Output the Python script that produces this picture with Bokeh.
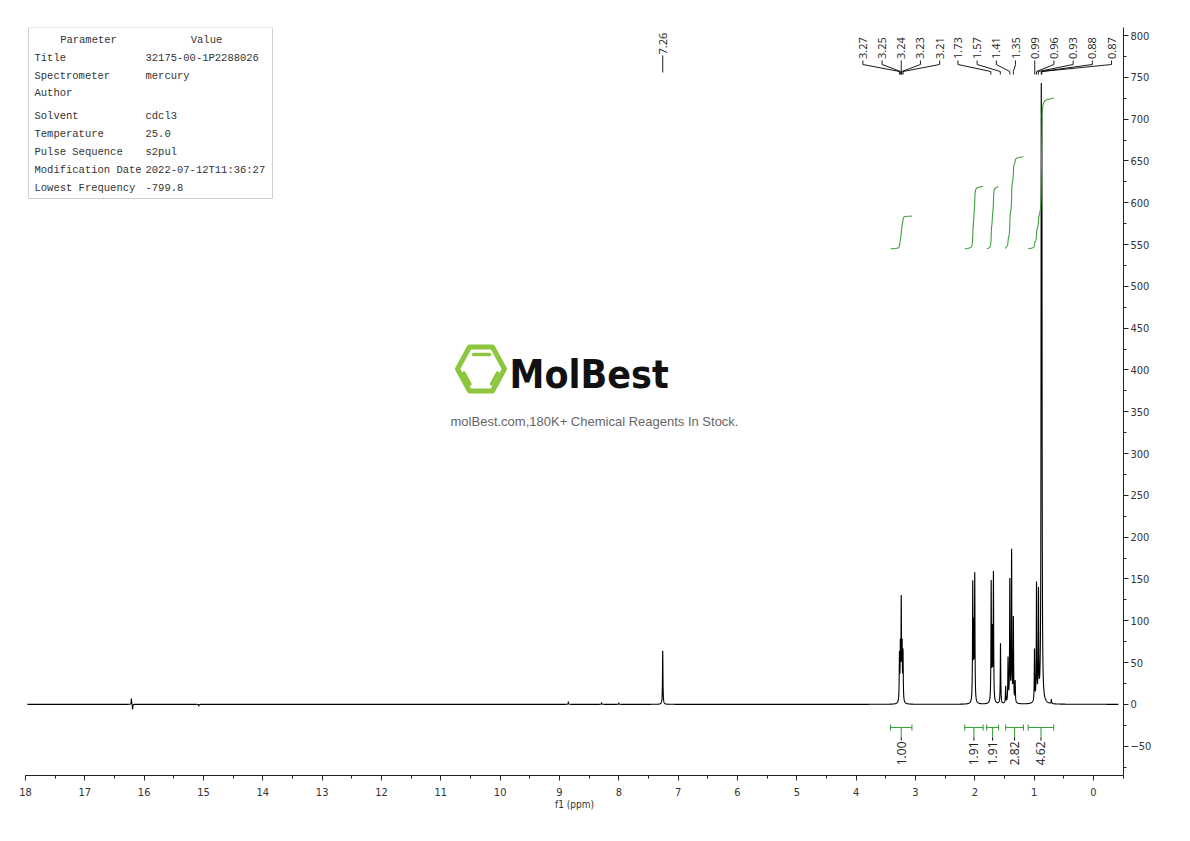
import numpy as np
from bokeh.plotting import figure
from bokeh.models import Range1d, SingleIntervalTicker, Label, PolyAnnotation, Arrow
from bokeh.core.properties import value
from bokeh.embed import file_html
from bokeh.resources import INLINE

# ---------------- spectrum: resolved lines (ppm, intensity) ----------------
line_ppm = [7.26,
            3.27, 3.255, 3.24, 3.225, 3.21,
            2.035, 2.018, 2.001,
            1.724, 1.705, 1.686,
            1.567,
            1.48, 1.44, 1.41, 1.38, 1.35, 1.32,
            0.994, 0.96, 0.927, 0.88, 0.87, 0.71]
line_height = [64,
               55, 62, 118, 62, 58,
               140, 85, 150,
               142, 80, 153,
               72,
               20, 52, 145, 180, 100, 25,
               62, 140, 128, 640, 590, 5]
line_hwhm = 0.0045

# small baseline artefacts
artefact_ppm = [16.215, 16.195, 15.08, 8.85, 8.29, 8.0]
artefact_height = [7, -6, -2, 3, 2, 1.5]

# peak picking labels
label_ppm = [7.26, 3.27, 3.25, 3.24, 3.23, 3.21,
             1.73, 1.57, 1.41, 1.35, 0.99, 0.96, 0.93, 0.88, 0.87]
label_group = [0, 1, 1, 1, 1, 1, 2, 2, 2, 2, 2, 2, 2, 2, 2]
group_centre = [7.26, 3.24, 0.99]

# integrals
integral_from = [3.42, 2.17, 1.80, 1.48, 1.10]
integral_to = [3.06, 1.86, 1.60, 1.18, 0.67]
integral_value = [1.00, 1.91, 1.91, 2.82, 4.62]

# acquisition parameters
param_names = ["Title", "Spectrometer", "Author", "Solvent", "Temperature",
               "Pulse Sequence", "Modification Date", "Lowest Frequency"]
param_values = ["32175-00-1P2288026", "mercury", "", "cdcl3", "25.0",
                "s2pul", "2022-07-12T11:36:27", "-799.8"]

# ---------------- layout constants ----------------
W, H = 1190, 841
FL, FR, FT, FB = 25, 1123, 27, 775          # frame edges in page pixels
X_START, X_END = 18.0, -0.506
Y_START, Y_END = -85.1, 809.6

GREEN = "#3f9f3f"
AXIS_FONT = "DejaVu Sans Condensed"


def sx(px):
    return px - FL


def sy(py):
    return FB - py


def ypx(py):
    """page pixel row -> intensity units"""
    return Y_START + (FB - py) * (Y_END - Y_START) / (FB - FT)


def spectrum(x):
    y = np.zeros_like(x)
    for c, h in zip(line_ppm + artefact_ppm, line_height + artefact_height):
        y += h / (1.0 + ((x - c) / line_hwhm) ** 2)
    return y


# sampling grid: coarse everywhere, fine around every line
grid = [np.arange(-0.42, 17.97, 0.004)]
for c in line_ppm + artefact_ppm:
    grid.append(np.arange(c - 0.06, c + 0.06, 0.0004))
x = np.unique(np.concatenate(grid))[::-1]
y = spectrum(x)

p = figure(width=W, height=H,
           x_range=Range1d(X_START, X_END), y_range=Range1d(Y_START, Y_END),
           y_axis_location="right", output_backend="svg", toolbar_location=None,
           min_border_left=FL, min_border_right=W - FR,
           min_border_top=FT, min_border_bottom=H - FB)
p.outline_line_color = None
p.grid.visible = False
p.background_fill_color = "white"

p.line(x, y, line_color="black", line_width=1.1)

# ---------------- integrals ----------------
INT_BASE = 545.0
INT_SCALE = 39.0
bar_y = ypx(727)
cap = 3.6
mids = [(a + b) / 2 for a, b in zip(integral_from, integral_to)]
for a, b, v in zip(integral_from, integral_to, integral_value):
    xi = np.linspace(a, b, 800)
    yi = spectrum(xi)
    cum = np.concatenate([[0.0], np.cumsum((yi[1:] + yi[:-1]) / 2)])
    cum = cum / cum[-1]
    p.line(xi, INT_BASE + v * INT_SCALE * cum, line_color=GREEN, line_width=1.1)
    mid = (a + b) / 2
    p.segment(x0=[a, a, b, mid], y0=[bar_y, bar_y - cap, bar_y - cap, bar_y],
              x1=[b, a, b, mid], y1=[bar_y, bar_y + cap, bar_y + cap, ypx(737)],
              line_color=GREEN, line_width=1.1)
p.segment(x0=mids, y0=[ypx(737)] * len(mids), x1=mids, y1=[ypx(740)] * len(mids),
          line_color="black", line_width=1)
p.text(x=mids, y=[ypx(741)] * len(mids), text=[f"{v:.2f}" for v in integral_value],
       angle=np.pi / 2, text_align="right", text_baseline="middle",
       text_font=value("Open Sans"), text_font_size="12px", text_color="#222")

# ---------------- peak labels ----------------
spacing = 19.2 * (X_START - X_END) / (FR - FL)
slots = []
for g, centre in enumerate(group_centre):
    members = [i for i, gg in enumerate(label_group) if gg == g]
    n = len(members)
    for k, i in enumerate(members):
        slots.append(centre + spacing * ((n - 1) / 2 - k))

xs, ys, tx, ty = [], [], [], []
for i, (pk, s) in enumerate(zip(label_ppm, slots)):
    if label_group.count(label_group[i]) == 1:
        xs.append([s, s])
        ys.append([ypx(55), ypx(72)])
        tx.append(s)
        ty.append(ypx(54))
    else:
        xs.append([s, s, pk, pk])
        ys.append([ypx(60), ypx(64), ypx(71), ypx(74)])
        tx.append(s)
        ty.append(ypx(58.5))
p.multi_line(xs, ys, line_color="black", line_width=0.9)
p.text(x=tx, y=ty, text=[f"{v:.2f}" for v in label_ppm], angle=np.pi / 2,
       text_align="left", text_baseline="middle",
       text_font=value("Open Sans"), text_font_size="11px", text_color="#222")

# ---------------- axes ----------------
xa = p.xaxis[0]
xa.ticker = SingleIntervalTicker(interval=1, num_minor_ticks=2)
xa.axis_label = "f1 (ppm)"
xa.axis_label_text_font = AXIS_FONT
xa.axis_label_text_font_style = "normal"
xa.axis_label_text_font_size = "10px"
xa.axis_label_standoff = 0
xa.major_label_text_font = AXIS_FONT
xa.major_label_text_font_size = "11px"
xa.major_label_standoff = 7
xa.major_tick_out = 5
xa.major_tick_in = 0
xa.minor_tick_out = 3
xa.minor_tick_in = 0
ya = p.yaxis[0]
ya.ticker = SingleIntervalTicker(interval=50, num_minor_ticks=2)
ya.major_label_text_font = AXIS_FONT
ya.major_label_text_font_size = "11px"
ya.major_label_standoff = 2
ya.major_tick_out = 5
ya.major_tick_in = 0
ya.minor_tick_out = 3
ya.minor_tick_in = 0
for ax in (xa, ya):
    ax.axis_line_color = "#222"
    ax.major_tick_line_color = "#222"
    ax.minor_tick_line_color = "#222"
    ax.major_label_text_color = "#333"
    ax.axis_label_text_color = "#333"

# ---------------- parameter table ----------------
p.add_layout(PolyAnnotation(xs=[sx(28), sx(272), sx(272), sx(28)],
                            ys=[sy(27), sy(27), sy(198), sy(198)],
                            xs_units="screen", ys_units="screen",
                            fill_color=None, line_color="#d0d0d0", line_alpha=1,
                            line_width=1))
TABLE_FONT = "Liberation Mono"
p.add_layout(Label(x=sx(88), y=sy(39), x_units="screen", y_units="screen",
                   text="Parameter", text_align="center", text_baseline="middle",
                   text_font=TABLE_FONT, text_font_size="10.5px", text_color="#333"))
p.add_layout(Label(x=sx(206), y=sy(39), x_units="screen", y_units="screen",
                   text="Value", text_align="center", text_baseline="middle",
                   text_font=TABLE_FONT, text_font_size="10.5px", text_color="#333"))
row_y = [57, 75, 92, 115, 133, 151, 169, 187]
for ry, name, val in zip(row_y, param_names, param_values):
    p.add_layout(Label(x=sx(34), y=sy(ry), x_units="screen", y_units="screen",
                       text=name, text_baseline="middle",
                       text_font=TABLE_FONT, text_font_size="10.5px", text_color="#333"))
    if val:
        p.add_layout(Label(x=sx(145), y=sy(ry), x_units="screen", y_units="screen",
                           text=val, text_baseline="middle",
                           text_font=TABLE_FONT, text_font_size="10.5px", text_color="#333"))

# ---------------- logo ----------------
LOGO = "#8cc63f"
hx = [457, 469, 492, 504, 492, 469]
hy = [368.5, 346.5, 346.5, 368.5, 390.5, 390.5]
p.add_layout(PolyAnnotation(xs=[sx(v) for v in hx], ys=[sy(v) for v in hy],
                            xs_units="screen", ys_units="screen",
                            fill_color=None, line_color=LOGO, line_alpha=1,
                            line_width=5, line_join="round"))
for (x0, y0, x1, y1) in [(473, 354, 489, 354), (463.5, 372.5, 469.5, 383.5),
                         (497, 372.5, 491, 383.5)]:
    p.add_layout(Arrow(end=None, x_start=sx(x0), y_start=sy(y0), x_end=sx(x1), y_end=sy(y1),
                       start_units="screen", end_units="screen",
                       line_color=LOGO, line_width=3.5, line_cap="round"))
p.add_layout(Label(x=sx(509), y=sy(374), x_units="screen", y_units="screen",
                   text="MolBest", text_baseline="middle",
                   text_font=AXIS_FONT, text_font_style="bold",
                   text_font_size="39px", text_color="#111"))
p.add_layout(Label(x=sx(594), y=sy(421), x_units="screen", y_units="screen",
                   text="molBest.com,180K+ Chemical Reagents In Stock.",
                   text_align="center", text_baseline="middle",
                   text_font="Liberation Sans", text_font_size="13px",
                   text_color="#666"))

open("out.html", "w").write(file_html(p, INLINE))
